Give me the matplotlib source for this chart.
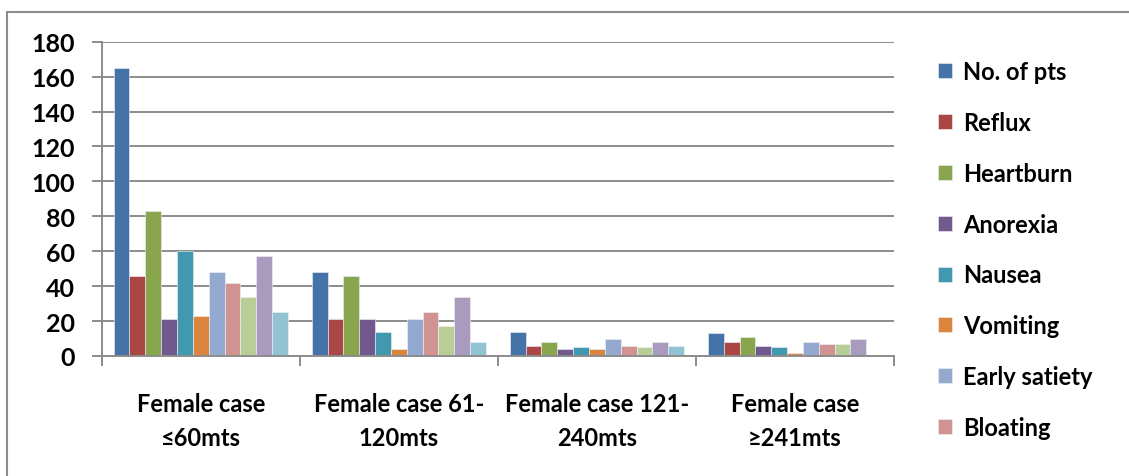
import numpy as np
import matplotlib.pyplot as plt
from matplotlib.patches import Rectangle

plt.rcParams['font.family'] = ['Lato', 'DejaVu Sans']
plt.rcParams['font.weight'] = 'bold'

# groups on the x axis
categories = ["Female case\n\u226460mts", "Female case 61-\n120mts",
              "Female case 121-\n240mts", "Female case\n\u2265241mts"]

# one list per series (values per group)
no_of_pts = [165, 48, 14, 13]
reflux = [46, 21, 6, 8]
heartburn = [83, 46, 8, 11]
anorexia = [21, 21, 4, 6]
nausea = [60, 14, 5, 5]
vomiting = [23, 4, 4, 2]
early_satiety = [48, 21, 10, 8]
bloating = [42, 25, 6, 7]
series9 = [34, 17, 5, 7]
series10 = [57, 34, 8, 10]
series11 = [25, 8, 6, 0]

series = [no_of_pts, reflux, heartburn, anorexia, nausea, vomiting,
          early_satiety, bloating, series9, series10, series11]
# only the first eight names show in the (cut off) legend
names = ["No. of pts", "Reflux", "Heartburn", "Anorexia", "Nausea",
         "Vomiting", "Early satiety", "Bloating", "_s9", "_s10", "_s11"]
colors = ["#4572A7", "#AA4643", "#89A54E", "#71588F", "#4198AF", "#DB843D",
          "#93A9CF", "#D19392", "#B9CD96", "#A99BBD", "#92C3D4"]

W, H = 1129, 477
fig = plt.figure(figsize=(W / 100, H / 100), dpi=100)
ax = fig.add_axes([101.7 / W, (H - 357) / H, (894 - 101.7) / W, (357 - 42.7) / H])

n = len(series)
bw = 1 / (n + 1.5)
x = np.arange(len(categories))
for i, (vals, nm, c) in enumerate(zip(series, names, colors)):
    ax.bar(x - 0.5 + 0.75 * bw + i * bw + bw / 2, vals, width=bw, color=c,
           label=nm, edgecolor='#eef2f7', linewidth=0.4)

ax.set_xlim(-0.5, len(categories) - 0.5)
ax.set_ylim(0, 180)
ax.set_yticks(range(0, 181, 20))
ax.yaxis.grid(True, color='#8c8c8c', linewidth=1.4)
ax.set_axisbelow(True)
ax.set_xticks(np.arange(len(categories) + 1) - 0.5)
ax.set_xticklabels([])
ax.set_xticks(x, categories, minor=True)
ax.tick_params(axis='x', which='minor', length=0, labelsize=17, pad=26)
ax.tick_params(axis='x', which='major', length=7, width=1.4, color='#8c8c8c')
ax.tick_params(axis='y', length=7, width=1.4, color='#8c8c8c', labelsize=18, pad=12)
for lbl in ax.get_xticklabels(minor=True):
    lbl.set_linespacing(1.55)
for s in ['top', 'right']:
    ax.spines[s].set_visible(False)
for s in ['left', 'bottom']:
    ax.spines[s].set_color('#8c8c8c')
    ax.spines[s].set_linewidth(1.4)

ax.legend(loc='upper left', bbox_to_anchor=(938 / W, 1 - 61 / H),
          bbox_transform=fig.transFigure, frameon=False, fontsize=17,
          handlelength=0.6, handleheight=0.6, handletextpad=0.45,
          labelspacing=1.18, borderaxespad=0, borderpad=0)

# outer chart border (top and left visible)
fig.patches.append(Rectangle((7 / W, -0.1), 1.2, (H - 13) / H + 0.1,
                             transform=fig.transFigure, fill=False,
                             edgecolor='#8c8c8c', linewidth=1.5))

fig.savefig("out.png", dpi=100)
